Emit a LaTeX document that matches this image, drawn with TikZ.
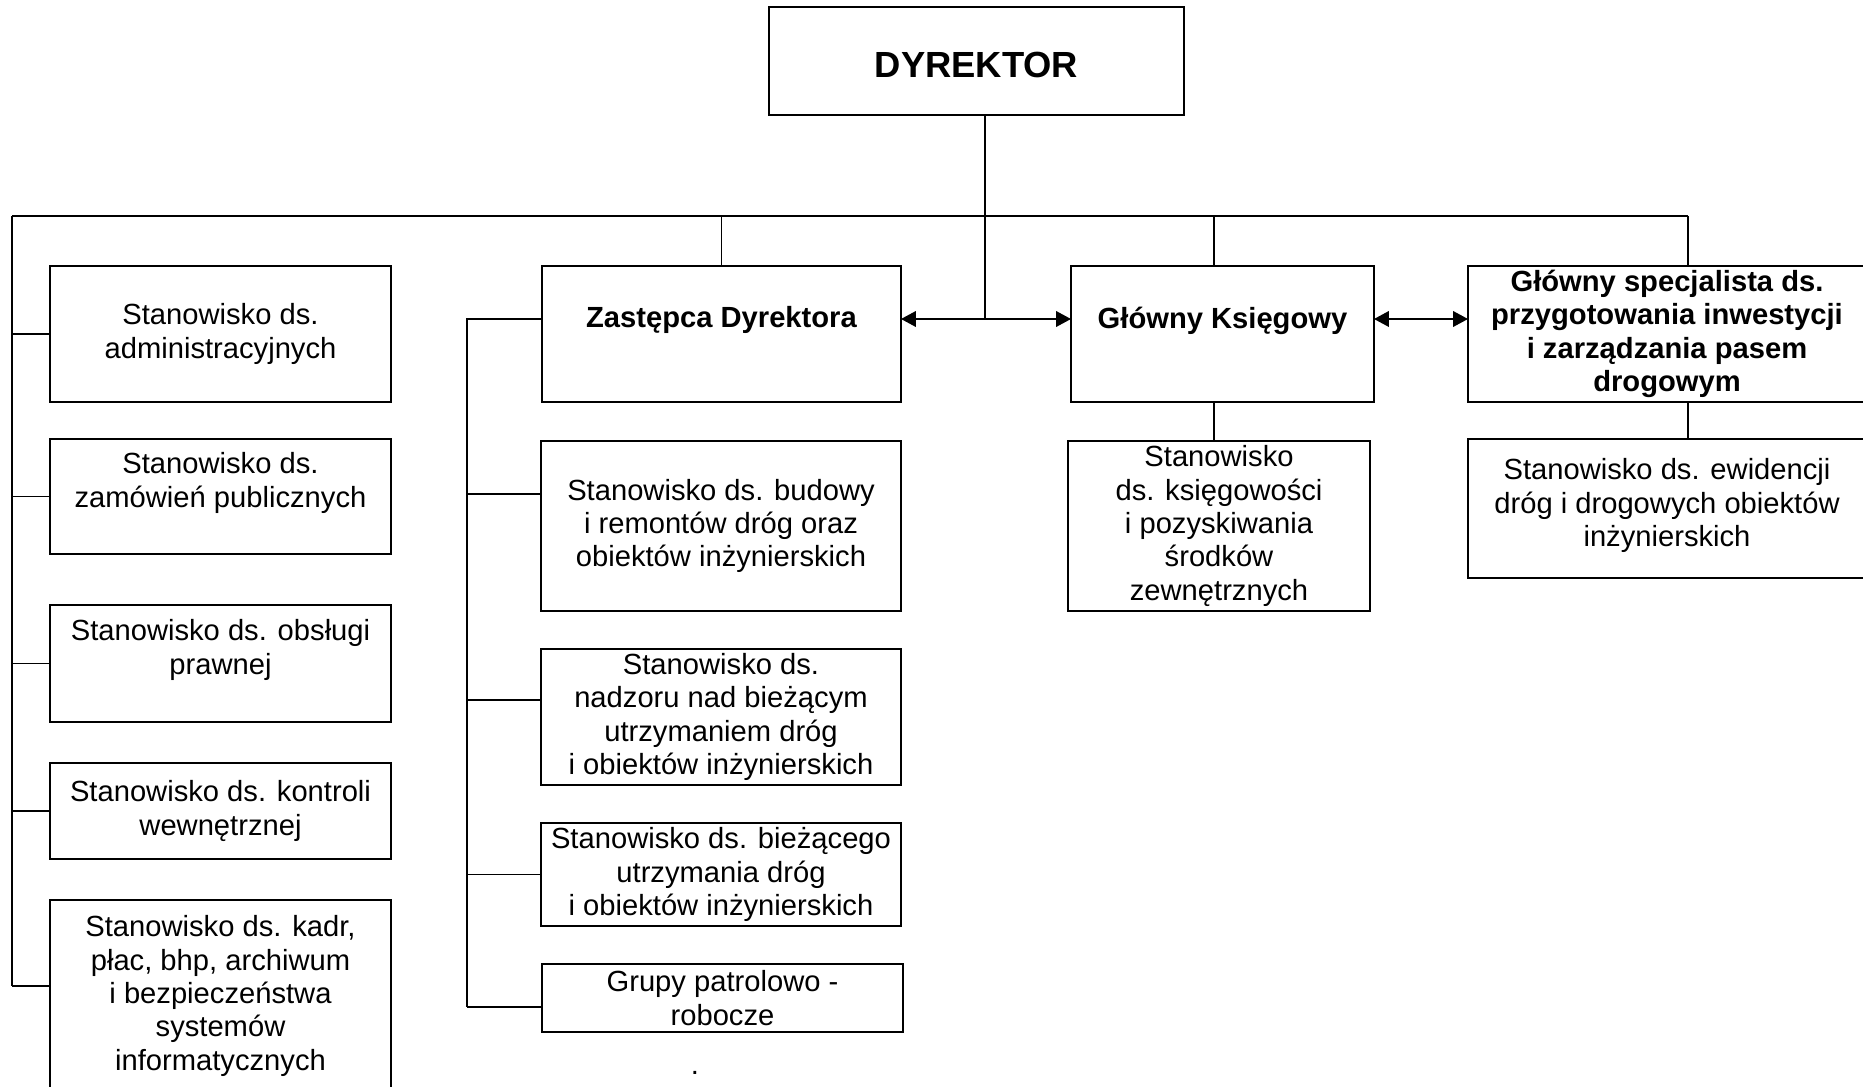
\documentclass[tikz,border=0pt]{standalone}
\usepackage{fontspec}
\setmainfont{Liberation Sans}
\usetikzlibrary{arrows.meta}

\begin{document}
\begin{tikzpicture}[x=0.02cm, y=-0.02cm, font=\fontsize{16.6}{19}\selectfont,
		box/.style={draw, line width=1.1pt, align=center, inner sep=0pt, outer sep=0pt},
		bold/.style={font=\fontsize{16.6}{19}\selectfont\bfseries},
		conn/.style={line width=0.9pt},
		arr/.style={line width=1.2pt, >={Triangle[length=8.5pt, width=8.8pt]}, <->}]
		\useasboundingbox (0, 0) rectangle (1863, 1087);
		
		% Director
		\node[box, minimum width=8.3cm, minimum height=2.16cm, font=\fontsize{20.7}{24}\selectfont\bfseries] (dyr) at (976.5, 61) {\rule{0pt}{0.68cm}DYREKTOR};
		
		% Left column
		\node[box, minimum width=6.82cm, minimum height=2.72cm] (adm) at (220.5, 334) {Stanowisko ds.\\administracyjnych};
		\node[box, minimum width=6.82cm, minimum height=2.3cm] (zam) at (220.5, 496.5) {Stanowisko ds.\\zamówień publicznych\\\mbox{}};
		\node[box, minimum width=6.82cm, minimum height=2.34cm] (praw) at (220.5, 663.5) {Stanowisko ds. obsługi\\prawnej\\\mbox{}};
		\node[box, minimum width=6.82cm, minimum height=1.92cm] (kontr) at (220.5, 811) {Stanowisko ds. kontroli\\wewnętrznej};
		\node[box, minimum width=6.82cm, minimum height=3.84cm] (kadr) at (220.5, 996) {Stanowisko ds. kadr,\\płac, bhp, archiwum\\i bezpieczeństwa\\systemów\\informatycznych};
		
		% Deputy and his posts
		\node[box, bold, minimum width=7.18cm, minimum height=2.72cm] (zast) at (721.5, 334) {Zastępca Dyrektora\\\mbox{}};
		\node[box, minimum width=7.2cm, minimum height=3.4cm] (bud) at (721, 526) {Stanowisko ds. budowy\\i remontów dróg oraz\\obiektów inżynierskich};
		\node[box, minimum width=7.2cm, minimum height=2.72cm] (nadz) at (721, 717) {Stanowisko ds.\\nadzoru nad bieżącym\\utrzymaniem dróg\\i obiektów inżynierskich};
		\node[box, minimum width=7.2cm, minimum height=2.06cm] (biez) at (721, 874.5) {Stanowisko ds. bieżącego\\utrzymania dróg\\i obiektów inżynierskich};
		\node[box, minimum width=7.22cm, minimum height=1.36cm] (grupy) at (722.5, 998) {Grupy patrolowo -\\robocze};
		\node[inner sep=0pt] (kropka) at (695, 1073) {.};
		
		% Chief accountant
		\node[box, bold, minimum width=6.06cm, minimum height=2.72cm] (gk) at (1222.5, 334) {Główny Księgowy\\\mbox{}};
		\node[box, minimum width=6.04cm, minimum height=3.4cm] (ksieg) at (1219, 526) {Stanowisko\\ds. księgowości\\i pozyskiwania\\środków\\zewnętrznych};
		
		% Chief specialist
		\node[box, bold, minimum width=7.96cm, minimum height=2.72cm] (gs) at (1667, 334) {Główny specjalista ds.\\przygotowania inwestycji\\i zarządzania pasem\\drogowym};
		\node[box, minimum width=7.96cm, minimum height=2.78cm] (ewid) at (1667, 508.5) {Stanowisko ds. ewidencji\\dróg i drogowych obiektów\\inżynierskich\rule[-0.24cm]{0pt}{0.24cm}};
		
		% Connectors
		\coordinate (j) at (985, 319);
		\coordinate (busl) at (12, 216);
		\coordinate (busr) at (1688, 216);
		\coordinate (dgk) at (1214, 216);
		\coordinate (mb) at (467, 319);
		\coordinate (kb) at ([yshift=0.2cm]kadr.west);
		\coordinate (bb) at ([yshift=0.64cm]bud.west);
		\coordinate (nb) at ([yshift=0.34cm]nadz.west);
		\coordinate (gb) at ([yshift=-0.18cm]grupy.west);
		
		\draw[conn] (dyr.south -| j) -- (j);
		\draw[conn] (busl) -- (busr);
		\draw[conn] (busl -| zast.north) -- (zast.north);
		\draw[conn] (dgk) -- (dgk |- gk.north);
		\draw[conn] (busr) -- (busr |- gs.north);
		\draw[arr] (j -| zast.east) -- (j -| gk.west);
		\draw[arr] (j -| gk.east) -- (j -| gs.west);
		\draw[conn] (dgk |- gk.south) -- (dgk |- ksieg.north);
		\draw[conn] (busr |- gs.south) -- (busr |- ewid.north);
		
		\draw[conn] (busl) -- (busl |- kb);
		\foreach \n in {adm, zam, praw, kontr, kb}
			\draw[conn] (\n) -- (\n -| busl);
		
		\draw[conn] (j -| zast.west) -- (mb) -- (mb |- gb);
		\foreach \n in {bb, nb, biez, gb}
			\draw[conn] (\n) -- (\n -| mb);
		
	\end{tikzpicture}
\end{document}
